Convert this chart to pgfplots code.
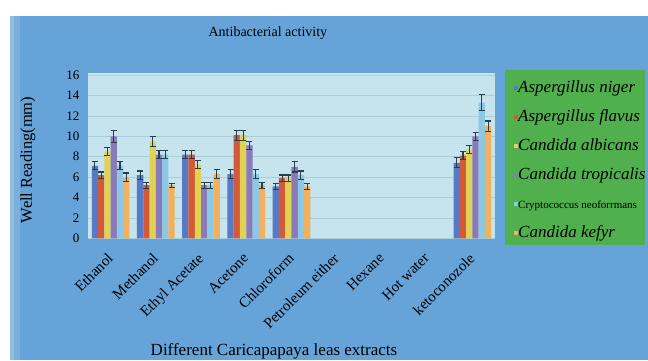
\documentclass[border=0pt]{standalone}
\usepackage{fontspec}
\setmainfont{Liberation Serif}
\usepackage{pgfplots}
\usepackage{pgfplotstable}
\pgfplotsset{compat=1.18}
\definecolor{bgblue}{RGB}{102,163,216}
\definecolor{plotbg}{RGB}{197,228,238}
\definecolor{gridc}{RGB}{172,206,220}
\definecolor{lgreen}{RGB}{80,176,78}
\definecolor{cA}{RGB}{88,122,196}
\definecolor{cB}{RGB}{210,90,58}
\definecolor{cC}{RGB}{226,210,84}
\definecolor{cD}{RGB}{138,122,184}
\definecolor{cE}{RGB}{138,200,230}
\definecolor{cF}{RGB}{240,176,96}
\definecolor{errc}{RGB}{40,62,72}
\pgfplotstableread{
x an anE af afE ca caE ct ctE cn cnE ck ckE
0 7.1 0.4 6.2 0.3 8.5 0.4 10.0 0.6 7.1 0.4 6.0 0.4
1 6.2 0.4 5.2 0.3 9.5 0.5 8.2 0.4 8.2 0.4 5.2 0.2
2 8.2 0.4 8.2 0.4 7.2 0.4 5.2 0.3 5.2 0.3 6.3 0.4
3 6.3 0.4 10.1 0.5 10.1 0.5 9.1 0.4 6.3 0.4 5.2 0.3
4 5.1 0.3 5.9 0.3 5.9 0.3 7.0 0.5 6.2 0.4 5.1 0.3
8 7.4 0.5 8.1 0.4 8.7 0.4 10.0 0.4 13.3 0.8 11.0 0.5
}\datatable
\pgfplotsset{
  errstyle/.style={error bars/.cd, y dir=both, y explicit,
    error bar style={errc, line width=1.1pt},
    error mark options={errc, rotate=90, mark size=3pt, line width=1.1pt}},
}
\begin{document}
\begin{tikzpicture}
\path[use as bounding box] (0pt,0pt) rectangle (648pt,360pt);
\fill[white] (0pt,0pt) rectangle (648pt,360pt);
\fill[bgblue] (10pt,0pt) rectangle (648pt,344pt);
\fill[bgblue!72!white] (10pt,0pt) rectangle (14pt,344pt);
\fill[bgblue!86!white] (14pt,0pt) rectangle (20pt,344pt);
\fill[lgreen] (505pt,115pt) rectangle (645pt,290pt);
\begin{axis}[
  at={(88pt,121.7pt)}, anchor=south west,
  width=407pt, height=165.3pt, scale only axis,
  ybar=0pt, bar width=0.139,
  xmin=-0.5, xmax=8.5, ymin=0, ymax=16.2,
  xtick={0,...,8},
  xticklabels={Ethanol,Methanol,Ethyl Acetate,Acetone,Chloroform,Petroleum either,Hexane,Hot water,ketoconozole},
  ytick={0,2,...,16},
  axis line style={draw=none},
  major tick length=0pt,
  axis background/.style={fill=plotbg},
  ymajorgrids, grid style={gridc, line width=0.6pt},
  /pgf/number format/assume math mode=true,
  yticklabel style={font=\fontsize{13}{15}\selectfont, xshift=-5pt},
  xticklabel style={font=\fontsize{15}{17}\selectfont, rotate=45, anchor=north east, xshift=-9.2pt, yshift=-3.3pt},
  title={Antibacterial activity},
  title style={font=\fontsize{14}{16}\selectfont, at={(axis description cs:0.442,1.1875)}, anchor=base},
  xlabel={Different Caricapapaya leas extracts},
  xlabel style={font=\fontsize{17}{19}\selectfont, at={(axis description cs:0.457,-0.706)}, anchor=base},
  ylabel={Well Reading(mm)},
  ylabel style={font=\fontsize{16.5}{19}\selectfont, at={(axis description cs:-0.1376,0.474)}, anchor=base},
  legend style={at={(axis description cs:1.0467,0.958)}, anchor=north west, draw=none, fill=none, inner sep=0pt, row sep=13pt, font=\fontsize{17}{20}\selectfont\itshape, nodes={inner sep=0pt, text height=12pt, text depth=4pt}, /tikz/every even column/.append style={column sep=1pt}},
  legend cell align=left,
  legend image code/.code={\fill[#1,draw=none] (0pt,-2pt) rectangle (4pt,2pt);},
]
\addplot[fill=cA, draw=none, errstyle] table[x=x, y=an, y error=anE] {\datatable};
\addlegendentry{Aspergillus niger}
\addplot[fill=cB, draw=none, errstyle] table[x=x, y=af, y error=afE] {\datatable};
\addlegendentry{Aspergillus flavus}
\addplot[fill=cC, draw=none, errstyle] table[x=x, y=ca, y error=caE] {\datatable};
\addlegendentry{Candida albicans}
\addplot[fill=cD, draw=none, errstyle] table[x=x, y=ct, y error=ctE] {\datatable};
\addlegendentry{Candida tropicalis}
\addplot[fill=cE, draw=none, errstyle] table[x=x, y=cn, y error=cnE] {\datatable};
\addlegendentry{\fontsize{11}{13}\selectfont\upshape Cryptococcus neoforrmans}
\addplot[fill=cF, draw=none, errstyle] table[x=x, y=ck, y error=ckE] {\datatable};
\addlegendentry{Candida kefyr}
\end{axis}
\end{tikzpicture}
\end{document}
